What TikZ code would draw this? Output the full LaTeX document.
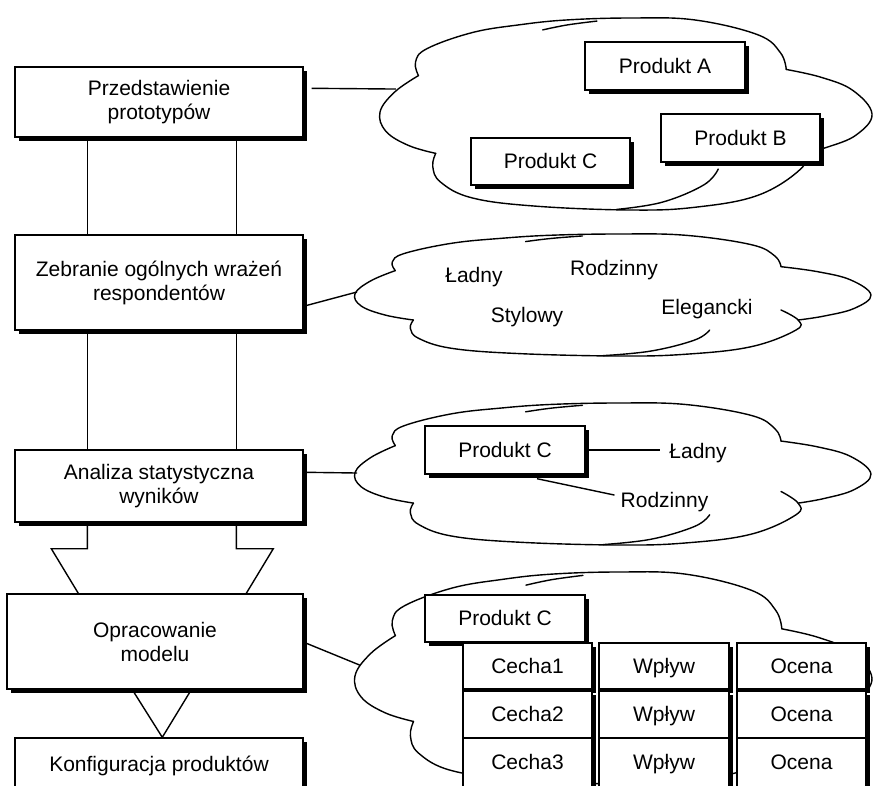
\documentclass[tikz,border=0pt]{standalone}
\usepackage{fontspec}
\setmainfont{Liberation Sans}
\usetikzlibrary{shadows,calc}

% One cloud outline in unit coordinates (u to the right, v downwards),
% made of overlapping lobes with small hooks where the lobes meet.
\newcommand\cloudlobes{%
  \draw[cloudline] plot[smooth,tension=.65] coordinates {(.113,.705) (.058,.664) (.012,.59) (0,.49) (.03,.385) (.078,.3)};
  \draw[cloudline] plot[smooth,tension=.65] coordinates {(.078,.3) (.072,.23) (.095,.16) (.187,.076) (.284,.035) (.38,.01) (.509,0) (.638,.01) (.766,.087) (.812,.18) (.824,.268)};
  \draw[cloudline] plot[smooth,tension=.65] coordinates {(.33,.062) (.38,.036) (.44,.016)};
  \draw[cloudline] plot[smooth,tension=.65] coordinates {(.824,.268) (.895,.309) (.959,.377) (.998,.5) (.966,.609) (.908,.672) (.857,.705)};
  \draw[cloudline] plot[smooth,tension=.65] coordinates {(.824,.623) (.857,.705) (.853,.787) (.766,.924) (.638,.986) (.509,1) (.316,.98) (.187,.937) (.123,.855) (.107,.773) (.113,.705)};
  \draw[cloudline] plot[smooth,tension=.65] coordinates {(.686,.787) (.657,.869) (.573,.959) (.48,.997)};
}

\begin{document}
\begin{tikzpicture}[x=1pt,y=-1pt,
  every node/.style={font=\fontsize{21}{24}\selectfont, inner sep=0pt},
  line/.style={line width=1.4pt, line join=miter},
  cloudline/.style={line width=1.4pt, line cap=round},
  shbox/.style={draw, line width=1.4pt, fill=white, align=center,
    general shadow={fill=black, shadow xshift=3.5pt, shadow yshift=-3.5pt}},
  oneline/.style={shbox, text height=15.3pt, text depth=0.8pt},
  word/.style={anchor=base}
]
\useasboundingbox (0,0) rectangle (873,785);
\clip (0,0) rectangle (873,785);

% ---- clouds ----
\begin{scope}[shift={(380,18)}, xscale=493, yscale=192]
  \cloudlobes
  \coordinate (cin1) at (.032,.37);
\end{scope}
\begin{scope}[shift={(355,234)}, xscale=517, yscale=122]
  \cloudlobes
  \coordinate (cin2) at (.004,.475);
\end{scope}
\begin{scope}[shift={(355,403)}, xscale=517, yscale=142]
  \cloudlobes
  \coordinate (cin3) at (.004,.493);
\end{scope}
\begin{scope}[shift={(355,572)}, xscale=518, yscale=212]
  \cloudlobes
  \coordinate (cin4) at (.01,.44);
\end{scope}

% ---- process steps ----
\node[shbox, minimum width=288pt, minimum height=70pt] (B1) at (159,102) {Przedstawienie\\prototypów};
\node[shbox, minimum width=288pt, minimum height=95pt] (B2) at (159,282.5) {Zebranie ogólnych wrażeń\\respondentów};
\node[shbox, minimum width=288pt, minimum height=72pt] (B3) at (159,486) {Analiza statystyczna\\wyników};
\node[shbox, minimum width=296pt, minimum height=95pt] (B4) at (155,641.5) {Opracowanie\\modelu};
\node[oneline, minimum width=288pt, minimum height=52pt] (B5) at (159,764) {Konfiguracja produktów};

% links between the steps
\draw[line] ($(B1.south west)+(73,0)$) -- ($(B2.north west)+(73,0)$);
\draw[line] ($(B1.south west)+(222,0)$) -- ($(B2.north west)+(222,0)$);
\draw[line] ($(B2.south west)+(73,0)$) -- ($(B3.north west)+(73,0)$);
\draw[line] ($(B2.south west)+(222,0)$) -- ($(B3.north west)+(222,0)$);
\draw[line] ($(B3.south west)+(73,0)$) -- ++(0,26) -- ++(-36,0) -- ($(B4.north west)+(72,0)$);
\draw[line] ($(B3.south west)+(222,0)$) -- ++(0,26) -- ++(37,0) -- ($(B4.north west)+(240,0)$);
\draw[line] ($(B4.south west)+(126,0)$) -- ($(B5.north west)+(148,0)$) -- ($(B4.south west)+(185,0)$);

% links from the steps to the clouds
\coordinate (out1) at ($(B1.north east)+(8,22)$);
\coordinate (out2) at ($(B2.south east)+(2,-25)$);
\coordinate (out3) at ($(B3.north east)+(2,23)$);
\draw[line] (out1) -- (cin1);
\draw[line] (out2) -- (cin2);
\draw[line] (out3) -- (cin3);
\draw[line] ($(B4.east)+(2,1.5)$) -- (cin4);

% ---- cloud 1: prototypes ----
\node[oneline, minimum width=160pt, minimum height=48pt] (PA) at (665,66) {Produkt A};
\node[oneline, minimum width=159pt, minimum height=48pt] (PB) at (740.5,138) {Produkt B};
\node[oneline, minimum width=159pt, minimum height=47pt] (PC1) at (550.5,161.5) {Produkt C};

% ---- cloud 2: impressions ----
\node[word] (w1) at (474,282) {Ładny};
\node[word] (w2) at (614,275) {Rodzinny};
\node[word] (w3) at (527,322) {Stylowy};
\node[word] (w4) at (707,314) {Elegancki};

% ---- cloud 3: analysis ----
\node[oneline, minimum width=160pt, minimum height=48pt] (PC3) at (505,450) {Produkt C};
\node[word] (L3) at (698,458) {Ładny};
\node[word] (R3) at (664.5,507) {Rodzinny};
\draw[line] (PC3.east) -- ($(PC3.east -| L3.west)+(-9,0)$);
\draw[line] ($(PC3.south)+(32,4)$) -- ($(R3.west)+(-6,-6.5)$);

% ---- cloud 4: model table ----
\node[oneline, minimum width=160pt, minimum height=47pt] (PC4) at (505,618.5) {Produkt C};
\foreach \r/\yc/\hh in {1/666/46, 2/714.5/47, 3/762.5/49}{
  \node[oneline, minimum width=129pt, minimum height=\hh pt] (c\r a) at (527.5,\yc) {Cecha\r};
  \node[oneline, minimum width=130pt, minimum height=\hh pt] (c\r b) at (664,\yc) {Wpływ};
  \node[oneline, minimum width=129pt, minimum height=\hh pt] (c\r c) at (801.5,\yc) {Ocena};
}
\end{tikzpicture}
\end{document}
